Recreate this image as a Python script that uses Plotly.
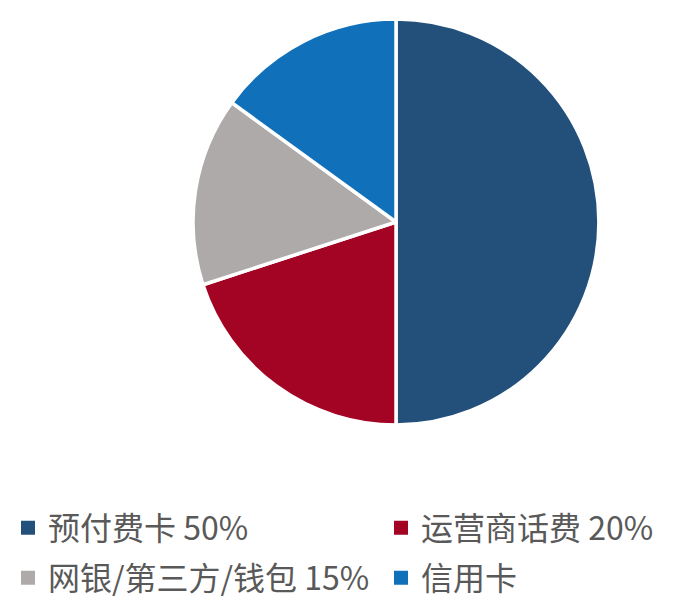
import plotly.graph_objects as go

labels = ["预付费卡", "运营商话费", "网银/第三方/钱包", "信用卡"]
values = [50, 20, 15, 15]
legend_pct = ["50%", "20%", "15%", ""]
colors = ["#22507A", "#A30424", "#AEAAAA", "#1170BA"]

legend_names = [f"{l} {p}" if p else l for l, p in zip(labels, legend_pct)]

# page is rendered with an 8px body margin, so the figure is sized to fill the rest
W, H = 673, 589

fig = go.Figure()
fig.add_trace(
    go.Pie(
        labels=labels,
        values=values,
        sort=False,
        direction="clockwise",
        rotation=0,
        textinfo="none",
        hoverinfo="label+percent",
        marker=dict(colors=colors, line=dict(color="white", width=3.5)),
        domain=dict(x=[0.2749, 0.8782], y=[0.2920, 0.9813]),
        showlegend=False,
    )
)

legend_ids = ["legend", "legend2", "legend3", "legend4"]
for name, col, lid in zip(legend_names, colors, legend_ids):
    fig.add_trace(
        go.Scatter(
            x=[None], y=[None], mode="markers", name=name,
            marker=dict(symbol="square", size=14, color=col),
            legend=lid, showlegend=True, hoverinfo="skip",
        )
    )

col_left = [-8, 373]
row_mid = [520, 570]
leg_font = dict(family="Noto Sans CJK SC", size=32, color="#595959")

def leg(i):
    c = i % 2
    r = i // 2
    return dict(
        orientation="h", xref="container", yref="container",
        x=col_left[c] / W, xanchor="left",
        y=1 - row_mid[r] / H, yanchor="middle",
        font=leg_font, bgcolor="rgba(0,0,0,0)", borderwidth=0,
    )

fig.update_layout(
    width=W,
    height=H,
    margin=dict(l=0, r=0, t=0, b=0, autoexpand=False),
    paper_bgcolor="white",
    plot_bgcolor="white",
    xaxis=dict(visible=False),
    yaxis=dict(visible=False),
    legend=leg(0),
    legend2=leg(1),
    legend3=leg(2),
    legend4=leg(3),
)

fig.write_html("out.html")
